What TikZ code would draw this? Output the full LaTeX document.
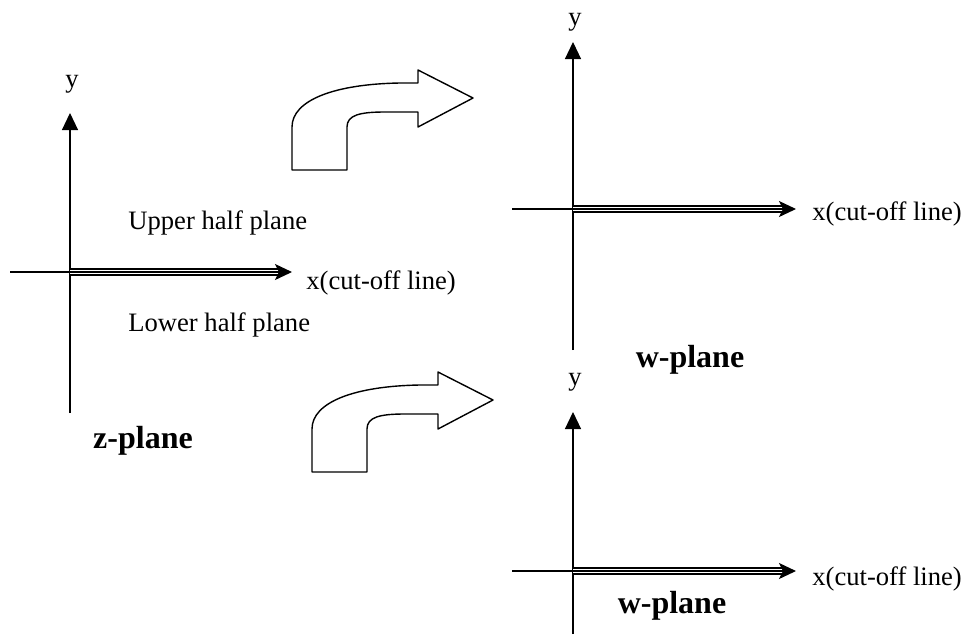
\documentclass[tikz,border=0pt]{standalone}
\usepackage{fontspec}
\setmainfont{Liberation Serif}
\usetikzlibrary{arrows.meta}

\begin{document}
\begin{tikzpicture}[
    % one unit = one pixel of the 965 x 634 frame, y runs downwards
    x=0.5pt, y=-0.5pt,
    lbl/.style={inner sep=0pt, font=\fontsize{13.3}{16}\selectfont},
    title/.style={inner sep=0pt, font=\fontsize{16}{19}\selectfont\bfseries},
    axis/.style={line width=0.6pt},
    yaxis/.style={axis, -{Triangle[length=8.5pt, width=8pt]}},
    cut line/.style={line width=0.6pt, -{Stealth[length=8.5pt, width=8pt, inset=2pt]},
        preaction={draw, -, line width=0.6pt, double, double distance=2.4pt, shorten >=6pt}},
    bent arrow/.pic={
        \draw[line width=0.7pt, line join=round]
            (292,170) -- (347,170) -- (347,127)
            .. controls (347,115) and (360,112) .. (385,112)
            -- (418,112) -- (418,127) -- (473,98) -- (418,70) -- (418,83) -- (400,83)
            .. controls (335,84) and (292,100) .. (292,127) -- cycle;
    }
]
    \useasboundingbox (0,0) rectangle (965,634);

    % 1. z-plane axes and labels
    \coordinate (zO) at (70,272);
    \coordinate (zTop) at (70,113);
    \coordinate (zBot) at (70,413);
    \coordinate (zLeft) at (10,272);
    \coordinate (zCut) at (292,272);
    \draw[yaxis] (zBot) -- (zTop);
    \draw[axis] (zLeft) -- (zO);
    \draw[cut line] (zO) -- (zCut);

    \node[lbl] (zy) at (72,84) {y};
    \node[lbl, anchor=west] (zx) at (306,283) {x(cut-off line)};
    \node[lbl, anchor=west] (upper) at (128,223) {Upper half plane};
    \node[lbl, anchor=west] (lower) at (128,325) {Lower half plane};
    \node[title] (zname) at (143,441) {z-plane};

    % 2. Bent arrows towards the two w-planes
    \pic (toupper) at (0,0) {bent arrow};
    \pic (tolower) at (20,302) {bent arrow};

    % 3. Upper w-plane
    \coordinate (aO) at (573,209);
    \coordinate (aTop) at (573,42);
    \coordinate (aBot) at (573,350);
    \coordinate (aLeft) at (512,209);
    \coordinate (aCut) at (796,209);
    \draw[yaxis] (aBot) -- (aTop);
    \draw[axis] (aLeft) -- (aO);
    \draw[cut line] (aO) -- (aCut);

    \node[lbl] (ay) at (575,22) {y};
    \node[lbl, anchor=west] (ax) at (812,214) {x(cut-off line)};
    \node[title] (aname) at (690,360) {w-plane};

    % 4. Lower w-plane
    \coordinate (bO) at (573,571);
    \coordinate (bTop) at (573,412);
    \coordinate (bBot) at (573,634);
    \coordinate (bLeft) at (512,571);
    \coordinate (bCut) at (796,571);
    \draw[yaxis] (bBot) -- (bTop);
    \draw[axis] (bLeft) -- (bO);
    \draw[cut line] (bO) -- (bCut);

    \node[lbl] (by) at (575,382) {y};
    \node[lbl, anchor=west] (bx) at (812,579) {x(cut-off line)};
    \node[title] (bname) at (672,606) {w-plane};

\end{tikzpicture}
\end{document}
